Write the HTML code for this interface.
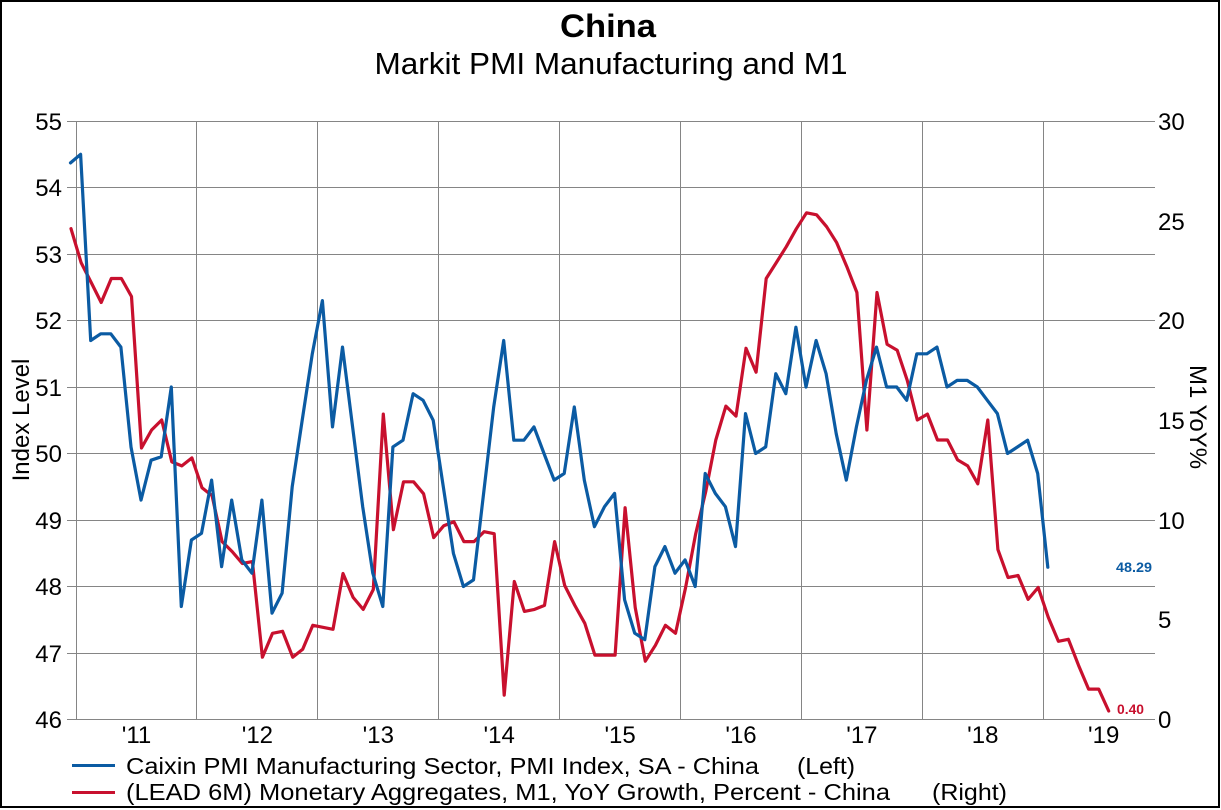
<!DOCTYPE html>
<html>
<head>
<meta charset="utf-8">
<style>
  html,body{margin:0;padding:0;background:#fff;}
  svg{display:block;}
  text{font-family:"Liberation Sans",Arial,sans-serif;fill:#000;}
</style>
</head>
<body>
<svg width="1221" height="810" viewBox="0 0 1221 810" xmlns="http://www.w3.org/2000/svg">
  <rect x="0" y="0" width="1221" height="810" fill="#fff"/>
  <rect x="1" y="1" width="1218" height="806" fill="none" stroke="#000" stroke-width="2"/>

  <text x="608" y="37" font-size="32" font-weight="bold" text-anchor="middle" textLength="96" lengthAdjust="spacingAndGlyphs">China</text>
  <text x="611" y="74" font-size="31" text-anchor="middle" textLength="473" lengthAdjust="spacingAndGlyphs">Markit PMI Manufacturing and M1</text>

  <g stroke="#858585" stroke-width="1">
    <line x1="67" y1="121.5" x2="1155" y2="121.5"/>
    <line x1="67" y1="187.5" x2="1155" y2="187.5"/>
    <line x1="67" y1="254.5" x2="1155" y2="254.5"/>
    <line x1="67" y1="320.5" x2="1155" y2="320.5"/>
    <line x1="67" y1="387.5" x2="1155" y2="387.5"/>
    <line x1="67" y1="453.5" x2="1155" y2="453.5"/>
    <line x1="67" y1="520.5" x2="1155" y2="520.5"/>
    <line x1="67" y1="586.5" x2="1155" y2="586.5"/>
    <line x1="67" y1="653.5" x2="1155" y2="653.5"/>
    <line x1="67" y1="719.5" x2="1155" y2="719.5"/>
  </g>
  <g stroke="#858585" stroke-width="1">
    <line x1="76.5" y1="121" x2="76.5" y2="719"/>
    <line x1="196.5" y1="121" x2="196.5" y2="719"/>
    <line x1="317.5" y1="121" x2="317.5" y2="719"/>
    <line x1="438.5" y1="121" x2="438.5" y2="719"/>
    <line x1="559.5" y1="121" x2="559.5" y2="719"/>
    <line x1="680.5" y1="121" x2="680.5" y2="719"/>
    <line x1="801.5" y1="121" x2="801.5" y2="719"/>
    <line x1="922.5" y1="121" x2="922.5" y2="719"/>
    <line x1="1043.5" y1="121" x2="1043.5" y2="719"/>
  </g>

  <g font-size="24" text-anchor="end">
    <text x="62" y="130">55</text>
    <text x="62" y="196">54</text>
    <text x="62" y="263">53</text>
    <text x="62" y="329">52</text>
    <text x="62" y="396">51</text>
    <text x="62" y="462">50</text>
    <text x="62" y="529">49</text>
    <text x="62" y="595">48</text>
    <text x="62" y="662">47</text>
    <text x="62" y="728">46</text>
  </g>
  <g font-size="24" text-anchor="start">
    <text x="1158" y="130">30</text>
    <text x="1158" y="230">25</text>
    <text x="1158" y="329">20</text>
    <text x="1158" y="429">15</text>
    <text x="1158" y="529">10</text>
    <text x="1158" y="628">5</text>
    <text x="1158" y="728">0</text>
  </g>
  <g font-size="24" text-anchor="middle">
    <text x="136.5" y="743">'11</text>
    <text x="257.4" y="743">'12</text>
    <text x="378.3" y="743">'13</text>
    <text x="499.2" y="743">'14</text>
    <text x="620.1" y="743">'15</text>
    <text x="741" y="743">'16</text>
    <text x="861.9" y="743">'17</text>
    <text x="982.8" y="743">'18</text>
    <text x="1103.7" y="743">'19</text>
  </g>

  <text x="0" y="0" font-size="24" text-anchor="middle" transform="translate(29,420) rotate(-90)">Index Level</text>
  <text x="0" y="0" font-size="24" text-anchor="middle" transform="translate(1190,417) rotate(90)">M1 YoY%</text>

  <!-- Red series -->
  <polyline fill="none" stroke="#c8102e" stroke-width="3.2" stroke-linejoin="round" stroke-linecap="round"
    points="71,228.7 81.1,262.6 91.2,282.5 101.2,302.5 111.3,278.5 121.4,278.5 131.5,296.5 141.5,448.0 151.6,430.0 161.7,420.0 171.8,461.9 181.8,465.9 191.9,457.9 202.0,487.8 212.1,495.8 222.1,541.6 232.2,551.6 242.3,563.5 252.4,561.6 262.4,657.2 272.5,633.3 282.6,631.3 292.7,657.2 302.7,649.2 312.8,625.3 322.9,627.3 333.0,629.3 343.0,573.5 353.1,597.4 363.2,609.4 373.3,589.5 383.3,414.1 393.4,529.7 403.5,481.8 413.6,481.8 423.6,493.8 433.7,537.6 443.8,525.7 453.9,521.7 463.9,541.6 474.0,541.6 484.1,531.7 494.2,533.7 504.2,695.1 514.3,581.5 524.4,611.4 534.5,609.4 544.5,605.4 554.6,541.6 564.7,585.5 574.8,605.4 584.8,623.3 594.9,655.2 605.0,655.2 615.1,655.2 625.1,507.7 635.2,607.4 645.3,661.2 655.4,645.3 665.4,625.3 675.5,633.3 685.6,587.5 695.7,533.7 705.7,491.8 715.8,440.0 725.9,406.1 736.0,416.1 746.0,348.3 756.1,372.2 766.2,278.5 776.3,262.6 786.3,246.7 796.4,228.7 806.5,212.8 816.6,214.8 826.6,226.7 836.7,242.7 846.8,266.6 856.9,292.5 866.9,430.0 877.0,292.5 887.1,344.3 897.2,350.3 907.2,380.2 917.3,420.0 927.4,414.1 937.5,440.0 947.5,440.0 957.6,459.9 967.7,465.9 977.8,483.8 987.8,420.0 997.9,549.6 1008.0,577.5 1018.1,575.5 1028.1,599.4 1038.2,587.5 1048.3,617.4 1058.4,641.3 1068.4,639.3 1078.5,665.2 1088.6,689.1 1098.7,689.1 1108.7,711.0"/>

  <!-- Blue series -->
  <polyline fill="none" stroke="#0b5ba3" stroke-width="3.2" stroke-linejoin="round" stroke-linecap="round"
    points="70.5,162.9 80.6,154.3 90.7,340.5 100.7,333.8 110.8,333.8 120.9,347.1 131.0,446.9 141.0,500.1 151.1,460.2 161.2,456.8 171.3,387 181.3,606.5 191.4,540.0 201.5,533.3 211.6,480.1 221.6,566.6 231.7,500.1 241.8,559.9 251.9,573.2 261.9,500.1 272.0,613.1 282.1,593.2 292.2,486.8 302.2,420.3 312.3,353.8 322.4,300.6 332.5,426.9 342.5,347.1 352.6,426.9 362.7,506.7 372.8,573.2 382.8,606.5 392.9,446.9 403.0,440.2 413.1,393.7 423.1,400.3 433.2,420.3 443.3,486.8 453.4,553.3 463.4,586.5 473.5,579.9 483.6,493.4 493.7,407.0 503.7,340.5 513.8,440.2 523.9,440.2 534.0,426.9 544.0,453.5 554.1,480.1 564.2,473.5 574.3,407.0 584.3,480.1 594.4,526.7 604.5,506.7 614.6,493.4 624.6,599.8 634.7,633.1 644.8,639.7 654.9,566.6 664.9,546.6 675.0,573.2 685.1,559.9 695.2,586.5 705.2,473.5 715.3,493.4 725.4,506.7 735.5,546.6 745.5,413.6 755.6,453.5 765.7,446.9 775.8,373.7 785.8,393.7 795.9,327.2 806.0,387 816.1,340.5 826.1,373.7 836.2,433.6 846.3,480.1 856.4,426.9 866.4,380.4 876.5,347.1 886.6,387 896.7,387 906.7,400.3 916.8,353.8 926.9,353.8 937.0,347.1 947.0,387 957.1,380.4 967.2,380.4 977.3,387 987.3,400.3 997.4,413.6 1007.5,453.5 1017.6,446.9 1027.6,440.2 1037.7,473.5 1047.8,567.2"/>

  <text x="1116" y="572" font-size="14" font-weight="bold" style="fill:#0b5ba3" textLength="36" lengthAdjust="spacingAndGlyphs">48.29</text>
  <text x="1117" y="714" font-size="14" font-weight="bold" style="fill:#c8102e" textLength="27" lengthAdjust="spacingAndGlyphs">0.40</text>

  <line x1="72" y1="765.5" x2="115" y2="765.5" stroke="#0b5ba3" stroke-width="3"/>
  <line x1="72" y1="792.5" x2="115" y2="792.5" stroke="#c8102e" stroke-width="3"/>
  <text x="126" y="774" font-size="23" textLength="633" lengthAdjust="spacingAndGlyphs">Caixin PMI Manufacturing Sector, PMI Index, SA - China</text>
  <text x="797" y="774" font-size="23" textLength="58" lengthAdjust="spacingAndGlyphs">(Left)</text>
  <text x="126" y="800" font-size="23" textLength="764" lengthAdjust="spacingAndGlyphs">(LEAD 6M) Monetary Aggregates, M1, YoY Growth, Percent - China</text>
  <text x="932" y="800" font-size="23" textLength="75" lengthAdjust="spacingAndGlyphs">(Right)</text>
</svg>
</body>
</html>
